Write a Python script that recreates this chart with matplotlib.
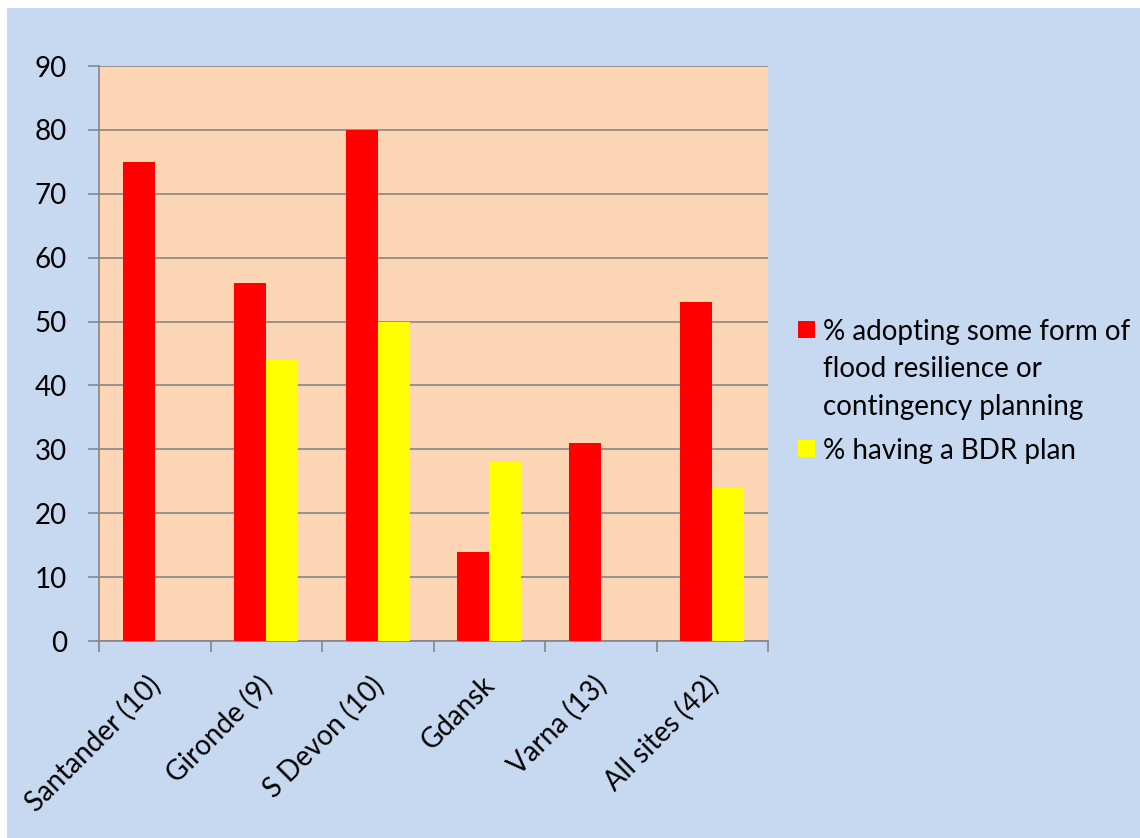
import matplotlib
matplotlib.use('Agg')
import numpy as np
import matplotlib.pyplot as plt
import matplotlib.transforms as mtransforms
from matplotlib.patches import Rectangle

sites = ["Santander (10)", "Gironde (9)", "S Devon (10)", "Gdansk", "Varna (13)", "All sites (42)"]
adopting = [75, 56, 80, 14, 31, 53]
bdr_plan = [0, 44, 50, 28, 0, 24]
series_labels = ["% adopting some form of\nflood resilience or\ncontingency planning",
                 "% having a BDR plan"]
series_colors = ["#FF0000", "#FFFF00"]

plt.rcParams['font.family'] = ['Lato', 'DejaVu Sans']
FS = 20

fig = plt.figure(figsize=(11.4, 8.38), dpi=100, facecolor="white")
# light blue chart area inset from the top/left edge
fig.patches.append(Rectangle((7 / 1140, 0), 1, 1 - 8 / 838, transform=fig.transFigure,
                             facecolor="#C6D9F1", edgecolor="none", zorder=-10))

ax = fig.add_axes([99 / 1140, 1 - 641 / 838, 669 / 1140, 575 / 838])
ax.set_facecolor("#FCD5B4")

x = np.arange(len(sites))
w = 0.287
ax.bar(x - w / 2, adopting, width=w, color=series_colors[0], zorder=3)
ax.bar(x + w / 2, bdr_plan, width=w, color=series_colors[1], zorder=3)

ax.set_ylim(0, 90)
ax.set_yticks(range(0, 91, 10))
ax.set_xlim(-0.5, len(sites) - 0.5)
ax.set_xticks(np.arange(-0.5, len(sites), 1))
ax.set_xticklabels([])
ax.set_xticks(x, minor=True)
ax.set_xticklabels(sites, minor=True, rotation=45, ha="right", rotation_mode="anchor", fontsize=FS)
ax.tick_params(axis="x", which="minor", length=0, pad=22)
ax.tick_params(axis="x", which="major", length=8, color="#868686", width=1.2)
ax.tick_params(axis="y", length=8, color="#868686", width=1.2, labelsize=FS, pad=15)

# nudge the slanted labels a little to the left
shift = mtransforms.ScaledTranslation(-8 / 100, 0, fig.dpi_scale_trans)
for lbl in ax.get_xticklabels(minor=True):
    lbl.set_transform(lbl.get_transform() + shift)

ax.grid(axis="y", color="#868686", linewidth=1.2, zorder=1)
ax.set_axisbelow(True)
for side in ["top", "right"]:
    ax.spines[side].set_visible(False)
for side in ["left", "bottom"]:
    ax.spines[side].set_color("#868686")
    ax.spines[side].set_linewidth(1.2)

# legend drawn by hand so the swatch sits on the first line of each entry
line_h = 37.5
y = 329
for label, color in zip(series_labels, series_colors):
    fig.patches.append(Rectangle((798 / 1140, 1 - (y + 8.5) / 838), 17 / 1140, 17 / 838,
                                 transform=fig.transFigure, facecolor=color, edgecolor="none"))
    for line in label.split("\n"):
        fig.text(823 / 1140, 1 - y / 838, line, fontsize=FS, va="center_baseline", ha="left")
        y += line_h
    y += 7

fig.savefig("out.png", dpi=100, facecolor=fig.get_facecolor())
